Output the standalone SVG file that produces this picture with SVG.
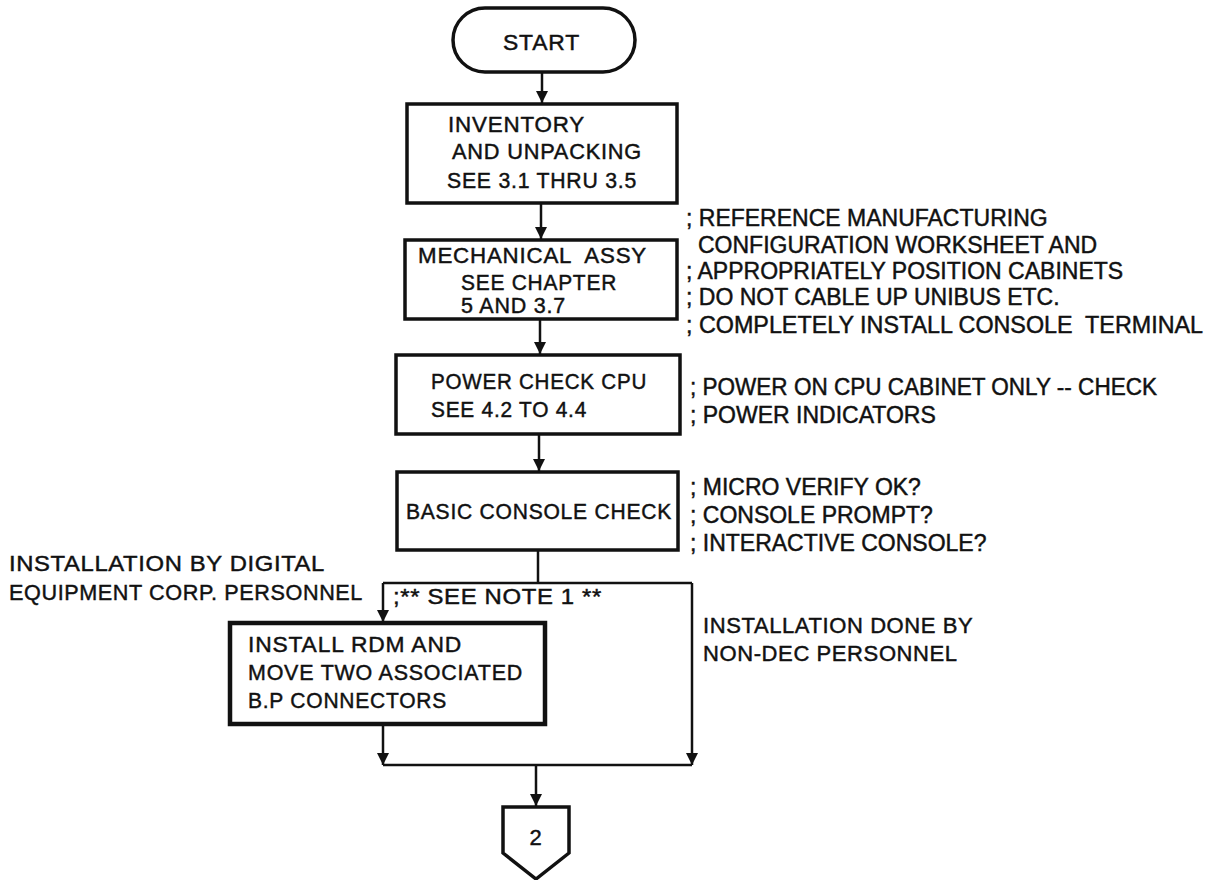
<svg xmlns="http://www.w3.org/2000/svg" width="1215" height="880" viewBox="0 0 1215 880">
<style>
text{font-family:"Liberation Sans",Arial,sans-serif;fill:#111;stroke:#111;stroke-width:0.45;}
.bt{font-size:22px;letter-spacing:0.8px;}
.nt{font-size:23px;}
.lb{font-size:22px;letter-spacing:0.6px;}
.box{fill:#fff;stroke:#111;stroke-width:3.5;}
.thick{stroke-width:4.5;}
.ln{fill:none;stroke:#111;stroke-width:2.5;}
</style>
<defs>
<marker id="ah" viewBox="0 0 12 16" refX="12" refY="6" markerWidth="12" markerHeight="16" markerUnits="userSpaceOnUse" orient="auto">
<path d="M0,0 L12,6 L0,12 Z" fill="#111"/>
</marker>
</defs>
<rect width="1215" height="880" fill="#fff"/>
<g id="connectors">
<line class="ln" x1="542" y1="72" x2="542" y2="103" marker-end="url(#ah)"/>
<line class="ln" x1="541" y1="203" x2="541" y2="239" marker-end="url(#ah)"/>
<line class="ln" x1="540" y1="319" x2="540" y2="354" marker-end="url(#ah)"/>
<line class="ln" x1="539" y1="434" x2="539" y2="471" marker-end="url(#ah)"/>
<polyline class="ln" points="538,550 538,583"/>
<polyline class="ln" points="383,583 692,583"/>
<line class="ln" x1="383" y1="583" x2="383" y2="622" marker-end="url(#ah)"/>
<line class="ln" x1="692" y1="583" x2="692" y2="765" marker-end="url(#ah)"/>
<line class="ln" x1="383" y1="725" x2="383" y2="765" marker-end="url(#ah)"/>
<polyline class="ln" points="383,765 692,765"/>
<line class="ln" x1="536" y1="765" x2="536" y2="806" marker-end="url(#ah)"/>
</g>
<g id="start">
<rect class="box" x="453" y="8" width="182" height="64" rx="32" ry="32"/>
<text class="bt" x="503" y="50" font-size="24" textLength="77" lengthAdjust="spacingAndGlyphs">START</text>
</g>
<g id="inventory">
<rect class="box" x="407" y="104" width="270" height="99"/>
<text class="bt" x="448" y="132" textLength="137" lengthAdjust="spacingAndGlyphs">INVENTORY</text>
<text class="bt" x="452" y="159" textLength="190" lengthAdjust="spacingAndGlyphs">AND UNPACKING</text>
<text class="bt" x="447" y="188" textLength="190" lengthAdjust="spacingAndGlyphs">SEE 3.1 THRU 3.5</text>
</g>
<g id="mechanical">
<rect class="box" x="405" y="240" width="272" height="79"/>
<text class="bt" x="418" y="263" xml:space="preserve" textLength="229" lengthAdjust="spacingAndGlyphs">MECHANICAL  ASSY</text>
<text class="bt" x="461" y="290" textLength="156" lengthAdjust="spacingAndGlyphs">SEE CHAPTER</text>
<text class="bt" x="461" y="313" textLength="105" lengthAdjust="spacingAndGlyphs">5 AND 3.7</text>
</g>
<g id="mechanical-notes">
<text class="nt" x="686" y="226">; REFERENCE MANUFACTURING</text>
<text class="nt" x="698" y="253">CONFIGURATION WORKSHEET AND</text>
<text class="nt" x="686" y="279">; APPROPRIATELY POSITION CABINETS</text>
<text class="nt" x="686" y="305">; DO NOT CABLE UP UNIBUS ETC.</text>
<text class="nt" x="686" y="333" xml:space="preserve" textLength="517" lengthAdjust="spacingAndGlyphs">; COMPLETELY INSTALL CONSOLE  TERMINAL</text>
</g>
<g id="power">
<rect class="box" x="396" y="355" width="284" height="79"/>
<text class="bt" x="431" y="389" textLength="216" lengthAdjust="spacingAndGlyphs">POWER CHECK CPU</text>
<text class="bt" x="431" y="417" textLength="156" lengthAdjust="spacingAndGlyphs">SEE 4.2 TO 4.4</text>
</g>
<g id="power-notes">
<text class="nt" x="690" y="395" textLength="467" lengthAdjust="spacingAndGlyphs">; POWER ON CPU CABINET ONLY -- CHECK</text>
<text class="nt" x="690" y="423">; POWER INDICATORS</text>
</g>
<g id="basic">
<rect class="box" x="397" y="472" width="281" height="78"/>
<text class="bt" x="406" y="519" textLength="266" lengthAdjust="spacingAndGlyphs">BASIC CONSOLE CHECK</text>
</g>
<g id="basic-notes">
<text class="nt" x="690" y="495">; MICRO VERIFY OK?</text>
<text class="nt" x="690" y="523">; CONSOLE PROMPT?</text>
<text class="nt" x="690" y="551">; INTERACTIVE CONSOLE?</text>
</g>
<g id="dec-label">
<text class="lb" x="9" y="571" textLength="316" lengthAdjust="spacingAndGlyphs">INSTALLATION BY DIGITAL</text>
<text class="lb" x="9" y="600" textLength="354" lengthAdjust="spacingAndGlyphs">EQUIPMENT CORP. PERSONNEL</text>
</g>
<g id="note1">
<text class="lb" x="393" y="604" textLength="209" lengthAdjust="spacingAndGlyphs">;** SEE NOTE 1 **</text>
</g>
<g id="rdm">
<rect class="box thick" x="230" y="623" width="315" height="101"/>
<text class="bt" x="248" y="652" textLength="214" lengthAdjust="spacingAndGlyphs">INSTALL RDM AND</text>
<text class="bt" x="248" y="680" textLength="275" lengthAdjust="spacingAndGlyphs">MOVE TWO ASSOCIATED</text>
<text class="bt" x="248" y="708" textLength="199" lengthAdjust="spacingAndGlyphs">B.P CONNECTORS</text>
</g>
<g id="nondec-label">
<text class="lb" x="703" y="633">INSTALLATION DONE BY</text>
<text class="lb" x="703" y="661">NON-DEC PERSONNEL</text>
</g>
<g id="offpage2">
<polygon class="box" points="503,807 569,807 569,853 536,879 503,853"/>
<text class="bt" x="536" y="845" text-anchor="middle">2</text>
</g>
</svg>
